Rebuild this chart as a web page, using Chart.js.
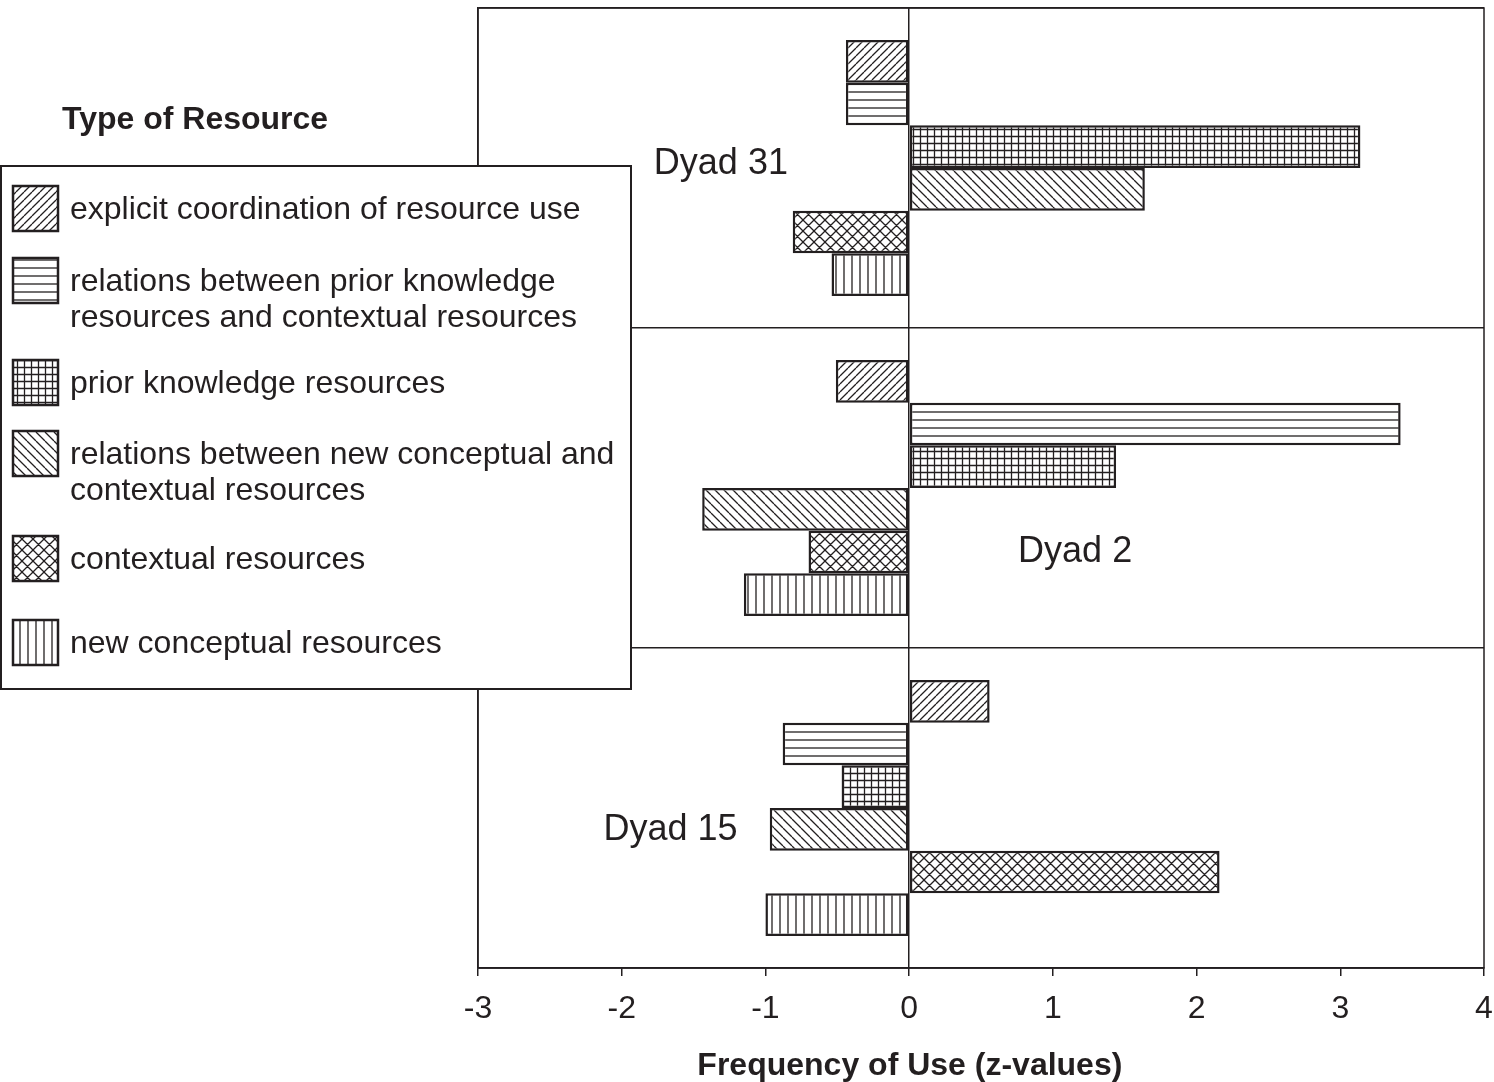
<!DOCTYPE html>
<html>
<head>
<meta charset="utf-8">
<script src="https://cdn.jsdelivr.net/npm/chart.js@4"></script>
<style>
  html, body { margin: 0; padding: 0; background: #ffffff; }
  #wrap { width: 1494px; height: 1082px; }
</style>
</head>
<body>
<div id="wrap"><canvas id="c" width="1494" height="1082"></canvas></div>
<script>
// ---- data ----
const dyads = ["Dyad 31", "Dyad 2", "Dyad 15"];
const legendTitle = "Type of Resource";
const axisTitle = "Frequency of Use (z-values)";
const seriesNames = [
  ["explicit coordination of resource use"],
  ["relations between prior knowledge", "resources and contextual resources"],
  ["prior knowledge resources"],
  ["relations between new conceptual and", "contextual resources"],
  ["contextual resources"],
  ["new conceptual resources"]
];
const explicitCoordination   = [-0.44, -0.51,  0.56];
const priorContextRelations  = [-0.44,  3.42, -0.88];
const priorKnowledge         = [ 3.14,  1.44, -0.47];
const newConceptContextRel   = [ 1.64, -1.44, -0.97];
const contextual             = [-0.81, -0.70,  2.16];
const newConceptual          = [-0.54, -1.15, -1.00];
const seriesValues = [explicitCoordination, priorContextRelations, priorKnowledge,
                      newConceptContextRel, contextual, newConceptual];
const xTicks = [-3, -2, -1, 0, 1, 2, 3, 4];

// ---- styling ----
const INK = "#231f20";
const FONT = "'Liberation Sans', Arial, sans-serif";
const patternKinds = ["diagF", "horiz", "grid", "diagB", "cross", "vert"];

function makePattern(kind) {
  const sizes = { diagF: 8, horiz: 8, grid: 7, diagB: 9, cross: 11, vert: 8 };
  const s = sizes[kind];
  const c = document.createElement("canvas");
  c.width = s; c.height = s;
  const g = c.getContext("2d");
  g.fillStyle = "#ffffff";
  g.fillRect(0, 0, s, s);
  g.strokeStyle = INK;
  g.lineWidth = 1.3;
  g.beginPath();
  if (kind === "diagF" || kind === "cross") {
    for (let k = -1; k <= 1; k++) { g.moveTo(k * s, s); g.lineTo(k * s + s, 0); }
  }
  if (kind === "diagB" || kind === "cross") {
    for (let k = -1; k <= 1; k++) { g.moveTo(k * s, 0); g.lineTo(k * s + s, s); }
  }
  if (kind === "horiz" || kind === "grid") { g.moveTo(0, s / 2); g.lineTo(s, s / 2); }
  if (kind === "vert" || kind === "grid") { g.moveTo(s / 2, 0); g.lineTo(s / 2, s); }
  g.stroke();
  return c;
}
const patternCanvases = patternKinds.map(makePattern);
const ctx0 = document.getElementById("c").getContext("2d");
const patterns = patternCanvases.map(pc => ctx0.createPattern(pc, "repeat"));

const datasets = seriesValues.map((vals, i) => ({
  label: seriesNames[i].join(" "),
  data: vals,
  backgroundColor: patterns[i],
  borderColor: INK,
  borderWidth: 2.5,
  borderSkipped: false,
  categoryPercentage: 0.8,
  barPercentage: 1.0
}));

// frame + dyad labels + axis title + legend
const decorPlugin = {
  id: "decor",
  afterDatasetsDraw(chart, args, opts) {
    const { ctx, chartArea: a, scales } = chart;
    ctx.save();
    ctx.strokeStyle = INK;
    ctx.lineWidth = 1.5;
    ctx.strokeRect(a.left, a.top, a.right - a.left, a.bottom - a.top);
    ctx.fillStyle = INK;
    ctx.font = "36px " + FONT;
    ctx.textAlign = "center";
    ctx.textBaseline = "middle";
    opts.dyadLabelPos.forEach((p, i) => {
      ctx.fillText(dyads[i], scales.x.getPixelForValue(p.x), scales.y.getPixelForValue(i + p.dy));
    });
    ctx.font = "bold 32px " + FONT;
    ctx.fillText(axisTitle, scales.x.getPixelForValue(opts.axisTitleAt), scales.x.bottom - opts.axisTitleLift);
    ctx.restore();
  },
  afterDraw(chart, args, opts) {
    const { ctx } = chart;
    const L = opts.legend;
    ctx.save();
    ctx.fillStyle = INK;
    ctx.font = "bold 32px " + FONT;
    ctx.textAlign = "left";
    ctx.textBaseline = "middle";
    ctx.fillText(legendTitle, L.titleX, L.titleY);
    ctx.fillStyle = "#ffffff";
    ctx.fillRect(L.x, L.y, L.w, L.h);
    ctx.strokeStyle = INK;
    ctx.lineWidth = 2;
    ctx.strokeRect(L.x, L.y, L.w, L.h);
    ctx.font = "32px " + FONT;
    seriesNames.forEach((lines, i) => {
      const cy = L.itemY[i];
      const sy = cy - 22;
      ctx.fillStyle = patterns[i];
      ctx.fillRect(L.swX, sy, L.sw, L.sw);
      ctx.strokeStyle = INK;
      ctx.lineWidth = 2.5;
      ctx.strokeRect(L.swX, sy, L.sw, L.sw);
      ctx.fillStyle = INK;
      lines.forEach((t, j) => ctx.fillText(t, L.textX, cy + 2 + j * L.lineGap));
    });
    ctx.restore();
  }
};

new Chart(document.getElementById("c"), {
  type: "bar",
  data: { labels: dyads, datasets },
  plugins: [decorPlugin],
  options: {
    indexAxis: "y",
    responsive: false,
    animation: false,
    layout: { padding: { left: 478, right: 10, top: 8, bottom: 0 } },
    plugins: {
      legend: { display: false },
      tooltip: { enabled: false },
      decor: {
        dyadLabelPos: [ { x: -1.31, dy: -0.013 }, { x: 1.155, dy: 0.2 }, { x: -1.66, dy: 0.069 } ],
        axisTitleAt: 0.005,
        axisTitleLift: 16,
        legend: { x: 1, y: 166, w: 630, h: 523, titleX: 62, titleY: 120,
                  swX: 13, sw: 45, textX: 70, lineGap: 36,
                  itemY: [208, 280, 382, 453, 558, 642] }
      }
    },
    scales: {
      x: {
        type: "linear",
        min: -3, max: 4,
        afterBuildTicks: s => { s.ticks = xTicks.map(v => ({ value: v })); },
        afterFit: s => { s.height = 114; s.paddingLeft = 0; s.paddingRight = 0; },
        ticks: { color: INK, font: { family: FONT, size: 32 }, padding: 14 },
        grid: {
          color: c => (c.tick && c.tick.value === 0) ? INK : "rgba(0,0,0,0)",
          tickColor: INK,
          tickLength: 8,
          lineWidth: 1.5
        },
        border: { display: true, color: INK, width: 1.5 },
        title: { display: false }
      },
      y: {
        type: "category",
        afterFit: s => { s.width = 0; },
        ticks: { display: false },
        grid: { offset: true, color: INK, lineWidth: 1.5, drawTicks: false },
        border: { display: true, color: INK, width: 1.5 }
      }
    }
  }
});
</script>
</body>
</html>
